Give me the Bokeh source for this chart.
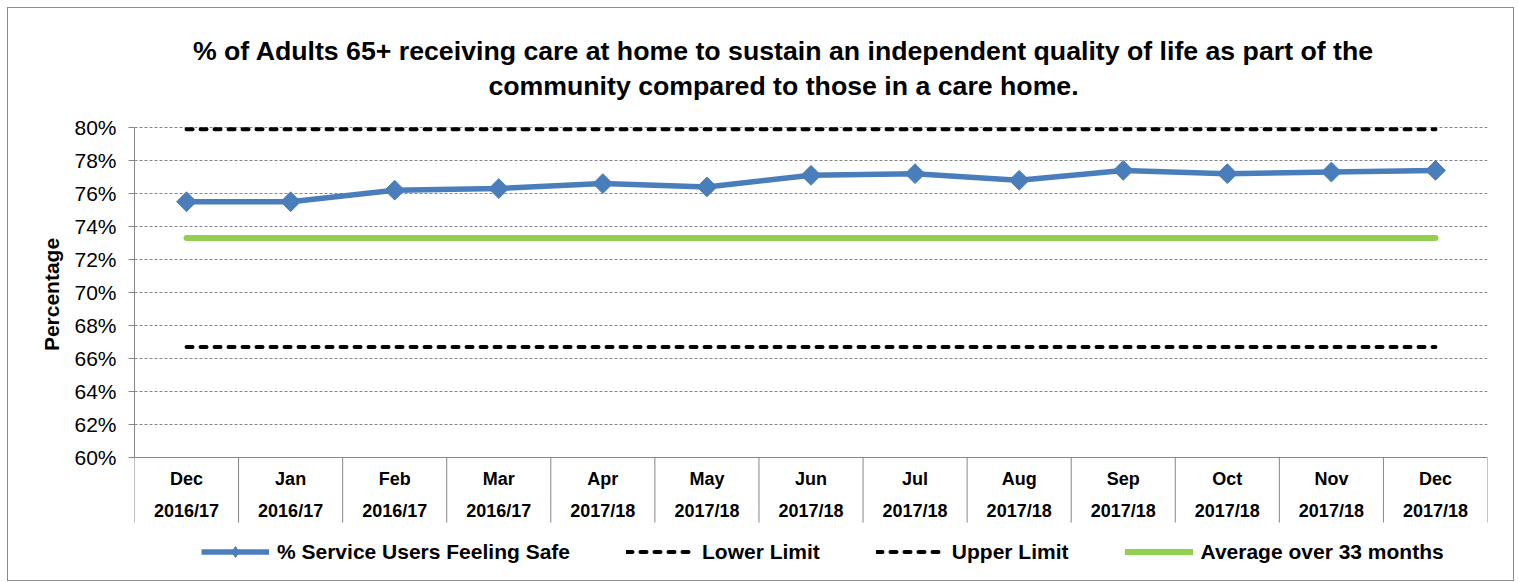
import math
from bokeh.plotting import figure
from bokeh.models import (FixedTicker, Legend, LegendItem, ColumnDataSource,
                          Range1d, PrintfTickFormatter)
from bokeh.core.properties import value
from bokeh.embed import file_html
from bokeh.resources import INLINE

# ---- data ----
months = ["Dec", "Jan", "Feb", "Mar", "Apr", "May", "Jun", "Jul", "Aug", "Sep", "Oct", "Nov", "Dec"]
years = ["2016/17", "2016/17", "2016/17", "2016/17", "2017/18", "2017/18", "2017/18",
         "2017/18", "2017/18", "2017/18", "2017/18", "2017/18", "2017/18"]
service_users = [75.5, 75.5, 76.2, 76.3, 76.6, 76.4, 77.1, 77.2, 76.8, 77.4, 77.2, 77.3, 77.4]
lower_limit = [66.7] * 13
upper_limit = [79.9] * 13
average = [73.3] * 13
y_ticks = [60, 62, 64, 66, 68, 70, 72, 74, 76, 78, 80]

title_lines = ["% of Adults 65+ receiving care at home to sustain an independent quality of life as part of the",
               "community compared to those in a care home."]

FONT = "Liberation Sans"
BLUE = "#4a7ebb"
GREEN = "#92d050"
GREY = "#868686"

n = len(months)
y_lo, y_hi = y_ticks[0], y_ticks[-1]

# ---- layout (pixels) ----
FRAME_W, FRAME_H = 1353, 572
PLOT_TOP, PLOT_H = 119, 330          # value axis: px from frame top, px height
u = (y_hi - y_lo) / PLOT_H           # data units per pixel (vertical)
ux = n / FRAME_W                     # data units per pixel (horizontal)
y_max = y_hi + PLOT_TOP * u
y_min = y_lo - (FRAME_H - PLOT_TOP - PLOT_H) * u

xs = [i + 0.5 for i in range(n)]
src = ColumnDataSource(dict(x=xs, su=service_users, lo=lower_limit, up=upper_limit, avg=average))

p = figure(frame_width=FRAME_W, frame_height=FRAME_H, output_backend="svg", toolbar_location=None,
           x_range=Range1d(0, n), y_range=Range1d(y_min, y_max),
           min_border_left=126, min_border_right=26, min_border_top=0, min_border_bottom=0,
           background_fill_color="white", border_fill_color="white", title=None)
p.styles = {"border": "1px solid #8c8c8c", "margin-left": "7px", "margin-top": "7px"}
p.outline_line_color = None

# ---- title (two centred lines) ----
title_x = (783 - 134) * ux
p.text(x=[title_x, title_x], y=[y_hi + 77 * u, y_hi + 42 * u], text=title_lines,
       text_font=value(FONT), text_font_style="bold", text_font_size="26.7px",
       text_align="center", text_baseline="middle", text_color="black")

# ---- y axis ----
p.yaxis.bounds = (y_lo, y_hi)
p.yaxis.ticker = FixedTicker(ticks=y_ticks)
p.yaxis.formatter = PrintfTickFormatter(format="%d%%")
p.yaxis.major_label_text_font = FONT
p.yaxis.major_label_text_font_size = "21px"
p.yaxis.major_label_text_color = "black"
p.yaxis.major_tick_out = 6
p.yaxis.major_tick_in = 0
p.yaxis.minor_tick_line_color = None
p.yaxis.axis_line_color = GREY
p.yaxis.major_tick_line_color = GREY
p.yaxis.major_label_standoff = 12
p.yaxis.axis_label = "Percentage"
p.yaxis.axis_label_text_font = FONT
p.yaxis.axis_label_text_font_style = "bold"
p.yaxis.axis_label_text_font_size = "21px"
p.yaxis.axis_label_text_color = "black"
p.yaxis.axis_label_standoff = 8

# ---- category axis (drawn by hand inside the frame) ----
p.xaxis.visible = False
p.xgrid.grid_line_color = None
p.ygrid.ticker = FixedTicker(ticks=y_ticks[1:])
p.ygrid.grid_line_color = GREY
p.ygrid.grid_line_dash = "3 2"
p.ygrid.grid_line_width = 1

bounds = list(range(n + 1))
p.segment(x0=[0], y0=[y_lo], x1=[n], y1=[y_lo], line_color=GREY, line_width=1)
p.segment(x0=bounds, y0=[y_lo] * (n + 1), x1=bounds, y1=[y_lo - 65 * u] * (n + 1),
          line_color=GREY, line_width=1)
p.text(x=xs, y=[y_lo - 21 * u] * n, text=months, text_font=value(FONT), text_font_style="bold",
       text_font_size="18px", text_align="center", text_baseline="middle", text_color="black")
p.text(x=xs, y=[y_lo - 53 * u] * n, text=years, text_font=value(FONT), text_font_style="bold",
       text_font_size="18px", text_align="center", text_baseline="middle", text_color="black")

# ---- series ----
r_lo = p.line("x", "lo", source=src, line_color="black", line_width=4, line_dash="6 8", line_cap="round")
r_up = p.line("x", "up", source=src, line_color="black", line_width=4, line_dash="6 8", line_cap="round")
r_avg = p.line("x", "avg", source=src, line_color=GREEN, line_width=6, line_cap="round")
r_su = p.line("x", "su", source=src, line_color=BLUE, line_width=5.5)
# diamond used for the legend; on the plot it is hidden under the larger markers drawn next
r_leg_mk = p.scatter("x", "su", source=src, marker="diamond", size=12,
                     fill_color=BLUE, line_color=BLUE)
p.scatter("x", "su", source=src, marker="square", angle=math.pi / 4, size=14,
          fill_color=BLUE, line_color=BLUE)

legend = Legend(items=[
    LegendItem(label="% Service Users Feeling Safe", renderers=[r_su, r_leg_mk]),
    LegendItem(label="Lower Limit", renderers=[r_lo]),
    LegendItem(label="Upper Limit", renderers=[r_up]),
    LegendItem(label="Average over 33 months", renderers=[r_avg]),
], orientation="horizontal", location=(67, 15))
legend.label_text_font = FONT
legend.label_text_font_style = "bold"
legend.label_text_font_size = "21px"
legend.label_text_color = "black"
legend.glyph_width = 68
legend.glyph_height = 27
legend.spacing = 56
legend.label_standoff = 8
legend.border_line_color = None
legend.background_fill_alpha = 0
legend.margin = 0
legend.padding = 0
p.add_layout(legend)

open("out.html", "w").write(file_html(p, INLINE))
